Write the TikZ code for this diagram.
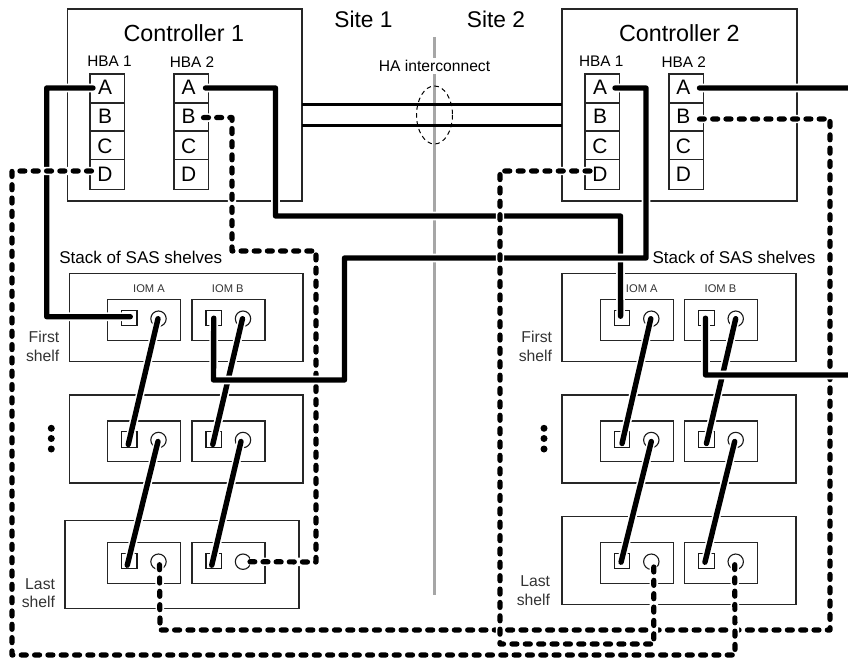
\documentclass[tikz,border=0pt]{standalone}
\usepackage{fontspec}
\setmainfont{Liberation Sans}
\newcommand{\sz}[1]{\fontsize{#1}{#1}\selectfont}
\tikzset{
  x=1bp,y=-1bp,
  frame/.style={draw=black!85,line width=1.1bp,rectangle,inner sep=0,outer sep=0,anchor=north west},
  portsq/.style={draw=black!90,line width=1.1bp,rectangle,inner sep=0,outer sep=0,minimum width=15.5bp,minimum height=15.3bp},
  portci/.style={draw=black!90,line width=1.1bp,circle,inner sep=0,outer sep=0,minimum size=15.4bp},
  thick cable/.style={line width=5.4bp,line cap=round,line join=round,preaction={draw=white,line width=8.6bp,line cap=butt}},
  dash cable/.style={line width=5.2bp,line cap=round,line join=round,dash pattern=on 5bp off #1bp,preaction={draw=white,line width=8.4bp,solid,line cap=butt}},
  ha/.style={line width=2.6bp,draw=black},
  lab/.style={inner sep=0,outer sep=0,text=black},
  dotmark/.style={circle,fill=black,inner sep=0,minimum size=7bp},
}
% HBA column: prefix, left x
\newcommand{\hbacol}[2]{%
  \node[frame,minimum width=34.5bp,minimum height=29bp] (#1A) at (#2,74) {};
  \node[frame,minimum width=34.5bp,minimum height=28bp] (#1B) at (#2,103) {};
  \node[frame,minimum width=34.5bp,minimum height=28.3bp] (#1C) at (#2,131) {};
  \node[frame,minimum width=34.5bp,minimum height=30bp] (#1D) at (#2,159.3) {};
}
\newcommand{\hbaletters}[2]{%
  \node[lab,font=\sz{21}] (#1Al) at (#2,87.5) {A};
  \node[lab,font=\sz{21}] (#1Bl) at (#2,116.5) {B};
  \node[lab,font=\sz{21}] (#1Cl) at (#2,146) {C};
  \node[lab,font=\sz{21}] (#1Dl) at (#2,174) {D};
}
% IOM: prefix, left x, top y
\newcommand{\iom}[3]{%
  \node[frame,minimum width=73bp,minimum height=40.5bp] (#1) at (#2,#3) {};
  \node[portsq] (#1s) at (#2+21.75,#3+18.5) {};
  \node[portci] (#1c) at (#2+51,#3+19) {};
}
\begin{document}
\begin{tikzpicture}
\useasboundingbox (0,0) rectangle (848,658);
% site divider and HA interconnect
\coordinate (divT) at (434.5,37);
\coordinate (divB) at (434.5,595);
\draw[draw=black!35,line width=2.8bp] (divT) -- (divB);
% controllers
\node[frame,minimum width=234.5bp,minimum height=192bp] (ctrlA) at (67.5,9) {};
\node[frame,minimum width=235bp,minimum height=192bp] (ctrlB) at (562,9) {};
\draw[ha] (ctrlA.east |- 0,104.5) -- (ctrlB.west |- 0,104.5);
\draw[ha] (ctrlA.east |- 0,125.5) -- (ctrlB.west |- 0,125.5);
\draw[black,line width=1bp,dash pattern=on 4.5bp off 3.5bp] (434.5,115) ellipse [x radius=18,y radius=29];
\hbacol{pa}{90}
\hbacol{pb}{174}
\hbacol{qa}{585}
\hbacol{qb}{669}
% shelves
\node[frame,minimum width=233.5bp,minimum height=88bp] (s1) at (69.5,273.5) {};
\node[frame,minimum width=233.5bp,minimum height=88bp] (s2) at (69.5,395) {};
\node[frame,minimum width=234bp,minimum height=88bp] (s3) at (65,520.7) {};
\node[frame,minimum width=234bp,minimum height=88bp] (t1) at (562,273.5) {};
\node[frame,minimum width=234bp,minimum height=88bp] (t2) at (562,395) {};
\node[frame,minimum width=234bp,minimum height=88bp] (t3) at (562,516.7) {};
\iom{s1a}{107.5}{299.7}\iom{s1b}{192}{299.7}
\iom{s2a}{107.5}{421}\iom{s2b}{192}{421}
\iom{s3a}{107.5}{542.7}\iom{s3b}{192}{542.7}
\iom{t1a}{600.3}{299.7}\iom{t1b}{684.7}{299.7}
\iom{t2a}{600.3}{421}\iom{t2b}{684.7}{421}
\iom{t3a}{600.3}{542.7}\iom{t3b}{684.7}{542.7}
% dashed cables that pass under the thick ones
\draw[dash cable=8.15] ([shift={(-5,0.6)}]pbB.east) -- (232,117.6) -- (232,251) -- (316,251) -- (316,562) -- ([shift={(7,0)}]s3bc.center);
\draw[dash cable=8.32] ([shift={(1,3)}]s3ac.center) -- (160,630) -- (830,630) -- (830,119) -- ([shift={(-4,2)}]qbB.east);
% shelf-to-shelf cables
\draw[thick cable] ([shift={(-0.5,0)}]s1ac.center) -- ([shift={(-1,5)}]s2as.center);
\draw[thick cable] ([shift={(-0.5,1.5)}]s2ac.center) -- ([shift={(-2,4)}]s3as.center);
\draw[thick cable] ([shift={(-0.5,0)}]s1bc.center) -- ([shift={(-1,5)}]s2bs.center);
\draw[thick cable] ([shift={(-2,1.5)}]s2bc.center) -- ([shift={(-2,4)}]s3bs.center);
\draw[thick cable] ([shift={(-0.5,0)}]t1ac.center) -- ([shift={(0,4)}]t2as.center);
\draw[thick cable] ([shift={(0,1.5)}]t2ac.center) -- ([shift={(-1,1)}]t3as.center);
\draw[thick cable] ([shift={(0,0)}]t1bc.center) -- ([shift={(0,4)}]t2bs.center);
\draw[thick cable] ([shift={(-1,1.5)}]t2bc.center) -- ([shift={(-1.5,1)}]t3bs.center);
% thick controller cables
\draw[thick cable] ([shift={(3,-0.5)}]paA.west) -- (46.7,88) -- (46.7,316.7) -- ([shift={(1,-1.5)}]s1as.center);
\draw[thick cable] ([shift={(-3,-0.5)}]pbA.east) -- (275.5,88) -- (275.5,216) -- (620.5,216) -- ([shift={(-1.5,-2)}]t1as.center);
\draw[thick cable] ([shift={(-4.5,-0.5)}]qaA.east) -- (646,88) -- (646,258) -- (344.5,258) -- (344.5,380) -- (213.5,380) -- (s1bs.center);
\coordinate (rightA) at (850,88);
\coordinate (rightB) at (850,375);
\draw[thick cable] ([shift={(-4,-0.5)}]qbA.east) -- (rightA);
\draw[thick cable] (rightB) -- (705.5,375) -- ([shift={(-1,0)}]t1bs.center);
% dashed cables on top
\draw[dash cable=8.32] ([shift={(1.5,-3.3)}]paD.west) -- (12,171) -- (12,655) -- (735,655) -- ([shift={(-1,3)}]t3bc.center);
\draw[dash cable=8.37] ([shift={(5,-3.3)}]qaD.west) -- (500,171) -- (500,644) -- (653.8,644) -- ([shift={(2.5,5)}]t3ac.center);
% text
\node[lab,fill=white,inner ysep=2bp,inner xsep=2bp,font=\sz{15.7}] (haT) at (434.5,66) {HA interconnect};
\node[lab,font=\sz{22.8}] (site1) at (363.5,19.5) {Site 1};
\node[lab,font=\sz{22.8}] (site2) at (496,19.5) {Site 2};
\node[lab,font=\sz{23.4}] (c1T) at (183.8,33) {Controller 1};
\node[lab,font=\sz{23.4}] (c2T) at (679.3,33) {Controller 2};
\node[lab,font=\sz{15.4}] (h1) at (109.5,61.7) {HBA 1};
\node[lab,font=\sz{15.4}] (h2) at (192,61.7) {HBA 2};
\node[lab,font=\sz{15.4}] (h3) at (601.3,61.7) {HBA 1};
\node[lab,font=\sz{15.4}] (h4) at (683.7,61.7) {HBA 2};
\hbaletters{pa}{105}
\hbaletters{pb}{188.7}
\hbaletters{qa}{600}
\hbaletters{qb}{683.3}
\node[lab,font=\sz{17.1}] (st1) at (140.8,257.7) {Stack of SAS shelves};
\node[lab,font=\sz{17.1}] (st2) at (734,257.7) {Stack of SAS shelves};
\node[lab,font=\sz{11.2},text=black!80] (i1) at (149,289) {IOM A};
\node[lab,font=\sz{11.2},text=black!80] (i2) at (227.8,289) {IOM B};
\node[lab,font=\sz{11.2},text=black!80] (i3) at (641.8,289) {IOM A};
\node[lab,font=\sz{11.2},text=black!80] (i4) at (720.5,289) {IOM B};
\node[lab,font=\sz{15.8},text=black!80,anchor=east] (f1) at (59.3,336.7) {First};
\node[lab,font=\sz{15.8},text=black!80,anchor=east] (f2) at (59.3,355.7) {shelf};
\node[lab,font=\sz{15.8},text=black!80,anchor=east] (l1) at (55,584) {Last};
\node[lab,font=\sz{15.8},text=black!80,anchor=east] (l2) at (55,602.3) {shelf};
\node[lab,font=\sz{15.8},text=black!80,anchor=east] (f3) at (552,336.7) {First};
\node[lab,font=\sz{15.8},text=black!80,anchor=east] (f4) at (552,355.7) {shelf};
\node[lab,font=\sz{15.8},text=black!80,anchor=east] (l3) at (550,580.7) {Last};
\node[lab,font=\sz{15.8},text=black!80,anchor=east] (l4) at (550,599.7) {shelf};
\foreach \yy in {428.3,438.5,449}{
  \node[dotmark] at (51.3,\yy) {};
  \node[dotmark] at (544,\yy) {};
}
\end{tikzpicture}
\end{document}
